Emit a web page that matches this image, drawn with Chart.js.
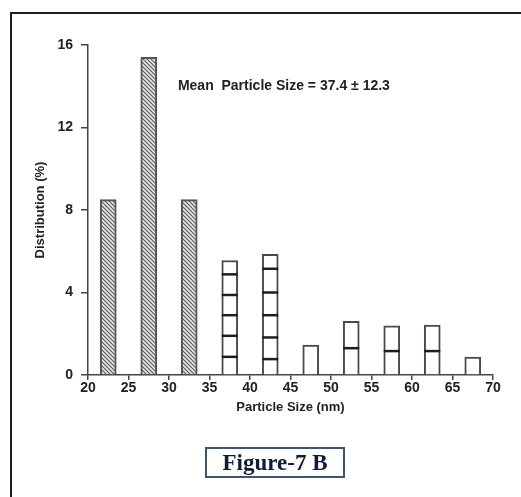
<!DOCTYPE html>
<html><head><meta charset="utf-8">
<script src="https://cdn.jsdelivr.net/npm/chart.js@4"></script>
<style>
html,body{margin:0;padding:0;background:#fff;}
#wrap{position:relative;width:521px;height:497px;overflow:hidden;background:#fff;}
#frame{position:absolute;left:10px;top:12px;width:700px;height:700px;border-top:2px solid #1e1e1e;border-left:2px solid #1e1e1e;}
canvas{position:absolute;left:0;top:0;}
#fig{position:absolute;left:205px;top:447px;width:136px;height:27px;border:2px solid #3e5468;font:bold 23px "Liberation Serif","DejaVu Serif",serif;color:#141a3c;text-align:center;line-height:27px;box-sizing:content-box;}
</style></head>
<body>
<div id="wrap">
<div id="frame"></div>
<canvas id="c" width="521" height="497"></canvas>
<div id="fig">Figure-7 B</div>
</div>
<script>
// ---- data ----
const sizeCenters = [22.5, 27.5, 32.5, 37.5, 42.5, 47.5, 52.5, 57.5, 62.5, 67.5];
const distribution = [8.5, 15.4, 8.5, 5.55, 5.85, 1.45, 2.6, 2.38, 2.42, 0.87];
const barPattern = ['hatch','hatch','hatch','plain','plain','plain','plain','plain','plain','plain'];
const dividers = [[], [], [], [0.88, 1.9, 2.9, 3.88, 4.88], [0.77, 1.82, 2.9, 4.0, 5.15], [], [1.3], [1.16], [1.16], []];
const xTickValues = [20, 25, 30, 35, 40, 45, 50, 55, 60, 65, 70];
const yTickValues = [0, 4, 8, 12, 16];
const xTitle = 'Particle Size (nm)';
const yTitle = 'Distribution (%)';
const annotationText = 'Mean  Particle Size = 37.4 \u00b1 12.3';
const annotationAt = {x: 31.1, y: 14.0};

// ---- hatch pattern ----
function makeHatch() {
  const s = 4;
  const pc = document.createElement('canvas');
  pc.width = s; pc.height = s;
  const g = pc.getContext('2d');
  g.fillStyle = '#e6e6e6';
  g.fillRect(0, 0, s, s);
  g.strokeStyle = '#5a5a5a';
  g.lineWidth = 1.1;
  g.beginPath();
  g.moveTo(-1, -1); g.lineTo(s + 1, s + 1);
  g.moveTo(-1, s - 1); g.lineTo(1, s + 1);
  g.moveTo(s - 1, -1); g.lineTo(s + 1, 1);
  g.stroke();
  return document.getElementById('c').getContext('2d').createPattern(pc, 'repeat');
}
const hatch = makeHatch();

const FONT = '"Liberation Sans", Arial, sans-serif';

const overlay = {
  id: 'overlay',
  afterDatasetsDraw(chart) {
    const ctx = chart.ctx;
    const ys = chart.scales.y, xs = chart.scales.x;
    const meta = chart.getDatasetMeta(0);
    ctx.save();
    ctx.strokeStyle = '#1e1e1e';
    ctx.lineWidth = 2.5;
    meta.data.forEach((bar, i) => {
      dividers[i].forEach(v => {
        const py = ys.getPixelForValue(v);
        ctx.beginPath();
        ctx.moveTo(bar.x - bar.width / 2, py);
        ctx.lineTo(bar.x + bar.width / 2, py);
        ctx.stroke();
      });
    });
    ctx.fillStyle = '#222';
    ctx.font = 'bold 14px ' + FONT;
    ctx.textAlign = 'left';
    ctx.textBaseline = 'middle';
    ctx.fillText(annotationText, xs.getPixelForValue(annotationAt.x), ys.getPixelForValue(annotationAt.y));
    ctx.restore();
  }
};

new Chart(document.getElementById('c'), {
  type: 'bar',
  data: {
    datasets: [{
      data: sizeCenters.map((x, i) => ({x: x, y: distribution[i]})),
      backgroundColor: sizeCenters.map((x, i) => barPattern[i] === 'hatch' ? hatch : '#ffffff'),
      borderColor: sizeCenters.map((x, i) => barPattern[i] === 'hatch' ? '#555' : '#4a4a4a'),
      borderWidth: 2,
      borderSkipped: 'bottom',
      barThickness: 16
    }]
  },
  options: {
    responsive: false,
    animation: false,
    devicePixelRatio: 1,
    layout: {padding: {left: 0, top: 45, right: 28, bottom: 67}},
    plugins: {legend: {display: false}, tooltip: {enabled: false}},
    scales: {
      x: {
        type: 'linear', min: 20, max: 70, offset: false,
        afterBuildTicks: s => { s.ticks = xTickValues.map(v => ({value: v})); },
        afterFit: s => { s.height = 55; },
        grid: {drawOnChartArea: false, offset: false, tickLength: 5, color: '#444', lineWidth: 1.5},
        border: {color: '#444', width: 1.5},
        ticks: {font: {family: FONT, size: 14, weight: 'bold'}, color: '#222', padding: 0, maxRotation: 0},
        title: {display: true, text: xTitle, font: {family: FONT, size: 13, weight: 'bold'}, color: '#222', padding: {top: 0, bottom: 15}}
      },
      y: {
        min: 0, max: 16,
        afterBuildTicks: s => { s.ticks = yTickValues.map(v => ({value: v})); },
        afterFit: s => { s.width = 88; },
        grid: {drawOnChartArea: false, tickLength: 7, color: '#444', lineWidth: 1.5},
        border: {color: '#444', width: 1.5},
        ticks: {font: {family: FONT, size: 14, weight: 'bold'}, color: '#222', padding: 8},
        title: {display: true, text: yTitle, font: {family: FONT, size: 13, weight: 'bold'}, color: '#222', padding: {top: 33, bottom: 0}}
      }
    }
  },
  plugins: [overlay]
});
</script>
</body></html>
